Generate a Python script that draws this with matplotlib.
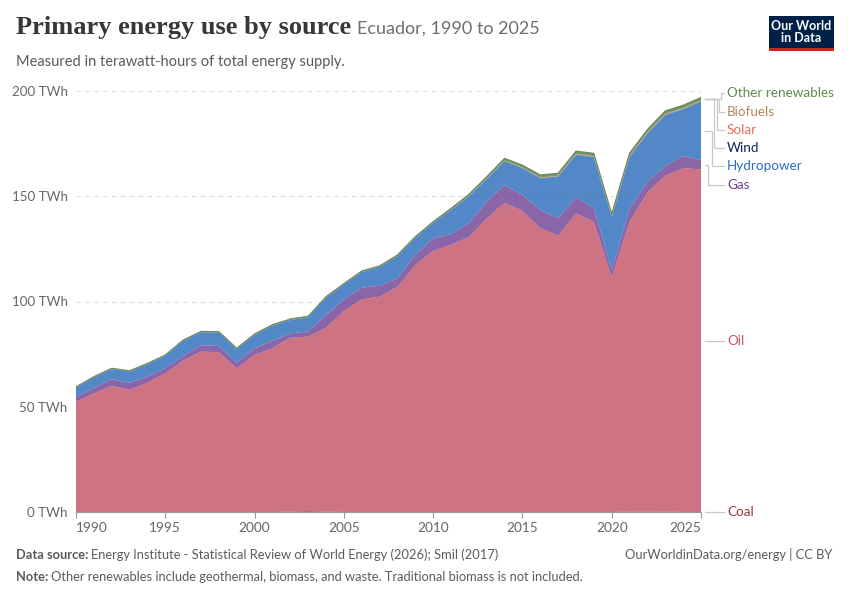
import matplotlib
matplotlib.use("Agg")
import matplotlib.pyplot as plt
from matplotlib.lines import Line2D
from matplotlib.patches import Rectangle
import numpy as np

years = list(range(1990, 2026))
coal = [0, 0, 0, 0, 0, 0, 0, 0, 0, 0,
        0, 0, 0.2, 0.4, 0.2, 0, 0, 0, 0, 0,
        0, 0, 0, 0, 0, 0, 0, 0, 0, 0,
        0, 0.2, 0.3, 0.2, 0, 0]
oil = [52.4, 56.3, 59.9, 58.0, 61.4, 65.9, 71.9, 76.2, 75.9, 68.3,
       74.6, 77.8, 82.6, 82.9, 87.3, 95.5, 101.0, 102.3, 107.0, 117.3,
       124.1, 127.0, 130.5, 139.5, 146.9, 143.0, 134.8, 131.3, 141.9, 137.9,
       111.5, 137.8, 151.5, 159.6, 163.3, 162.8]
gas = [2.4, 2.5, 3.1, 3.4, 2.9, 2.4, 2.2, 3.0, 3.0, 2.6,
       3.2, 3.4, 2.0, 2.5, 6.0, 5.5, 5.6, 5.2, 4.0, 4.8,
       5.9, 5.0, 6.6, 7.9, 8.4, 7.6, 8.7, 8.2, 7.6, 6.4,
       3.5, 6.0, 5.0, 4.5, 5.8, 4.4]
hydro = [4.3, 5.1, 4.9, 5.3, 5.9, 5.9, 7.2, 6.2, 6.4, 6.5,
         6.3, 7.3, 6.4, 6.7, 8.3, 7.0, 7.4, 8.9, 10.5, 8.1,
         7.3, 11.5, 12.9, 10.8, 11.4, 12.6, 14.9, 19.7, 20.1, 24.2,
         25.0, 24.6, 23.0, 24.2, 22.1, 27.7]
wind = [0, 0, 0, 0, 0, 0, 0, 0, 0, 0,
        0, 0, 0, 0, 0, 0, 0, 0.01, 0.01, 0.01,
        0.01, 0.01, 0.01, 0.02, 0.08, 0.2, 0.2, 0.2, 0.2, 0.2,
        0.2, 0.2, 0.2, 0.2, 0.2, 0.2]
solar = [0, 0, 0, 0, 0, 0, 0, 0, 0, 0,
         0, 0, 0, 0, 0, 0, 0, 0, 0, 0,
         0, 0, 0.01, 0.02, 0.04, 0.04, 0.04, 0.04, 0.04, 0.04,
         0.04, 0.04, 0.05, 0.05, 0.05, 0.05]
biofuels = [0, 0, 0, 0, 0, 0, 0, 0, 0, 0,
            0, 0, 0, 0, 0, 0, 0, 0, 0, 0,
            0, 0.05, 0.1, 0.15, 0.2, 0.25, 0.3, 0.3, 0.35, 0.35,
            0.3, 0.35, 0.4, 0.4, 0.4, 0.4]
other = [0.4, 0.4, 0.4, 0.4, 0.4, 0.4, 0.4, 0.4, 0.4, 0.4,
         0.5, 0.5, 0.5, 0.5, 0.5, 0.5, 0.5, 0.5, 0.6, 0.6,
         0.6, 0.7, 0.8, 0.9, 1.0, 1.1, 1.2, 1.2, 1.3, 1.3,
         1.2, 1.3, 1.3, 1.4, 1.4, 1.4]

series_names = ["Coal", "Oil", "Gas", "Hydropower", "Wind", "Solar", "Biofuels", "Other renewables"]
series_vals = [coal, oil, gas, hydro, wind, solar, biofuels, other]
fill_colors = ["#883039", "#C15065", "#6D3E91", "#286BBB", "#0F2A5A", "#E56E5A", "#B08563", "#4F7F3A"]
label_colors = ["#97333F", "#C9546B", "#6D3E91", "#2C6BC1", "#0B2454", "#E0705D", "#B0865F", "#5B8A4A"]

yticks = [0, 50, 100, 150, 200]
ytick_labels = ["0 TWh", "50 TWh", "100 TWh", "150 TWh", "200 TWh"]
xticks = [1990, 1995, 2000, 2005, 2010, 2015, 2020, 2025]

W, H = 850, 600
fig = plt.figure(figsize=(W / 100, H / 100), dpi=100)
fig.patch.set_facecolor("white")

def fx(px):
    return px / W

def fy(py):
    return 1 - py / H

ax_left, ax_right, ax_top, ax_bottom = 76, 701, 91, 512
ax = fig.add_axes([fx(ax_left), fy(ax_bottom), (ax_right - ax_left) / W, (ax_bottom - ax_top) / H])
ax.stackplot(years, *series_vals, colors=fill_colors, alpha=0.8, linewidth=0)
tot = np.sum(np.array(series_vals), axis=0)
ax.plot(years, tot, color="#6b7f5a", linewidth=0.8, alpha=0.9)
ax.set_xlim(1990, 2025)
ax.set_ylim(0, 200)
for s in ["top", "right", "left"]:
    ax.spines[s].set_visible(False)
ax.spines["bottom"].set_color("#999999")
ax.spines["bottom"].set_linewidth(0.8)
for v in yticks[1:]:
    ax.axhline(v, color="#dddddd", linewidth=0.8, linestyle=(0, (4, 4)), zorder=0)
ax.set_yticks(yticks)
ax.set_yticklabels(ytick_labels, fontfamily="Lato", fontsize=9.6, color="#666666")
ax.tick_params(axis="y", length=0, pad=6)
ax.set_xticks(xticks)
ax.set_xticklabels([str(x) for x in xticks], fontfamily="Lato", fontsize=9.8, color="#666666")
ax.tick_params(axis="x", length=4, color="#999999", width=0.8, pad=3)
labs = ax.get_xticklabels()
labs[0].set_horizontalalignment("left")
labs[-1].set_horizontalalignment("right")
ax.set_zorder(1)

# Right side labels with connectors
fig.canvas.draw()
cum = np.cumsum(np.array([[s[-1] for s in series_vals]]), axis=1)[0]
bottoms = np.concatenate([[0], cum[:-1]])
mids = (bottoms + cum) / 2

def data_py(v):
    disp = ax.transData.transform((2025, v))
    return H - disp[1]

label_py = {"Other renewables": 93, "Biofuels": 112, "Solar": 130, "Wind": 148,
            "Hydropower": 166, "Gas": 185, "Oil": 341, "Coal": 512}
elbow_px = {"Other renewables": 721, "Biofuels": 719, "Solar": 717, "Wind": 714,
            "Hydropower": 712, "Gas": 708, "Oil": 714, "Coal": 714}
for i, name in enumerate(series_names):
    ypd = data_py(mids[i])
    if name in ("Wind", "Solar", "Biofuels", "Other renewables"):
        ypd = data_py(cum[-1]) + 2
    yl = label_py[name]
    xe = elbow_px[name]
    xs = [fx(705), fx(xe), fx(xe), fx(724)]
    ys = [fy(ypd), fy(ypd), fy(yl), fy(yl)]
    fig.add_artist(Line2D(xs, ys, color="#c8c8c8", linewidth=0.9))
    fig.text(fx(727), fy(yl), name, fontfamily="Lato", fontsize=9.7, color=label_colors[i],
             va="center", ha="left")

# Title block
t = fig.text(fx(16), fy(34), "Primary energy use by source", fontfamily="Liberation Serif",
             fontsize=19, fontweight="bold", color="#373737", va="baseline", ha="left")
r = fig.canvas.get_renderer()
bb = t.get_window_extent(renderer=r)
fig.text(bb.x1 / W + fx(6), fy(34), "Ecuador, 1990 to 2025", fontfamily="Lato",
         fontsize=13, color="#6e6e6e", va="baseline", ha="left")
fig.text(fx(16), fy(66), "Measured in terawatt-hours of total energy supply.", fontfamily="Lato",
         fontsize=10.5, color="#5b5b5b", va="baseline", ha="left")

# Logo
fig.add_artist(Rectangle((fx(769), fy(51)), (834 - 769) / W, (51 - 16) / H, transform=fig.transFigure,
                         facecolor="#002147", edgecolor="none"))
fig.add_artist(Rectangle((fx(769), fy(51)), (834 - 769) / W, 3 / H, transform=fig.transFigure,
                         facecolor="#CE261E", edgecolor="none"))
fig.text(fx(801.5), fy(32.5), "Our World\nin Data", fontfamily="Lato", fontsize=9, color="white",
         ha="center", va="center", linespacing=1.0, fontweight="bold")

# Footer
fs = 9.3
d1 = fig.text(fx(16), fy(559), "Data source:", fontfamily="Lato", fontsize=fs, fontweight="bold",
              color="#5b5b5b", va="baseline", ha="left")
bb1 = d1.get_window_extent(renderer=r)
fig.text(bb1.x1 / W + fx(3), fy(559), "Energy Institute - Statistical Review of World Energy (2026); Smil (2017)",
         fontfamily="Lato", fontsize=fs, color="#5b5b5b", va="baseline", ha="left")
d2 = fig.text(fx(16), fy(581), "Note:", fontfamily="Lato", fontsize=fs, fontweight="bold",
              color="#5b5b5b", va="baseline", ha="left")
bb2 = d2.get_window_extent(renderer=r)
fig.text(bb2.x1 / W + fx(3), fy(581),
         "Other renewables include geothermal, biomass, and waste. Traditional biomass is not included.",
         fontfamily="Lato", fontsize=fs, color="#5b5b5b", va="baseline", ha="left")
fig.text(fx(832), fy(559), "OurWorldinData.org/energy | CC BY", fontfamily="Lato", fontsize=fs,
         color="#5b5b5b", va="baseline", ha="right")

fig.savefig("out.png", dpi=100, facecolor="white")
